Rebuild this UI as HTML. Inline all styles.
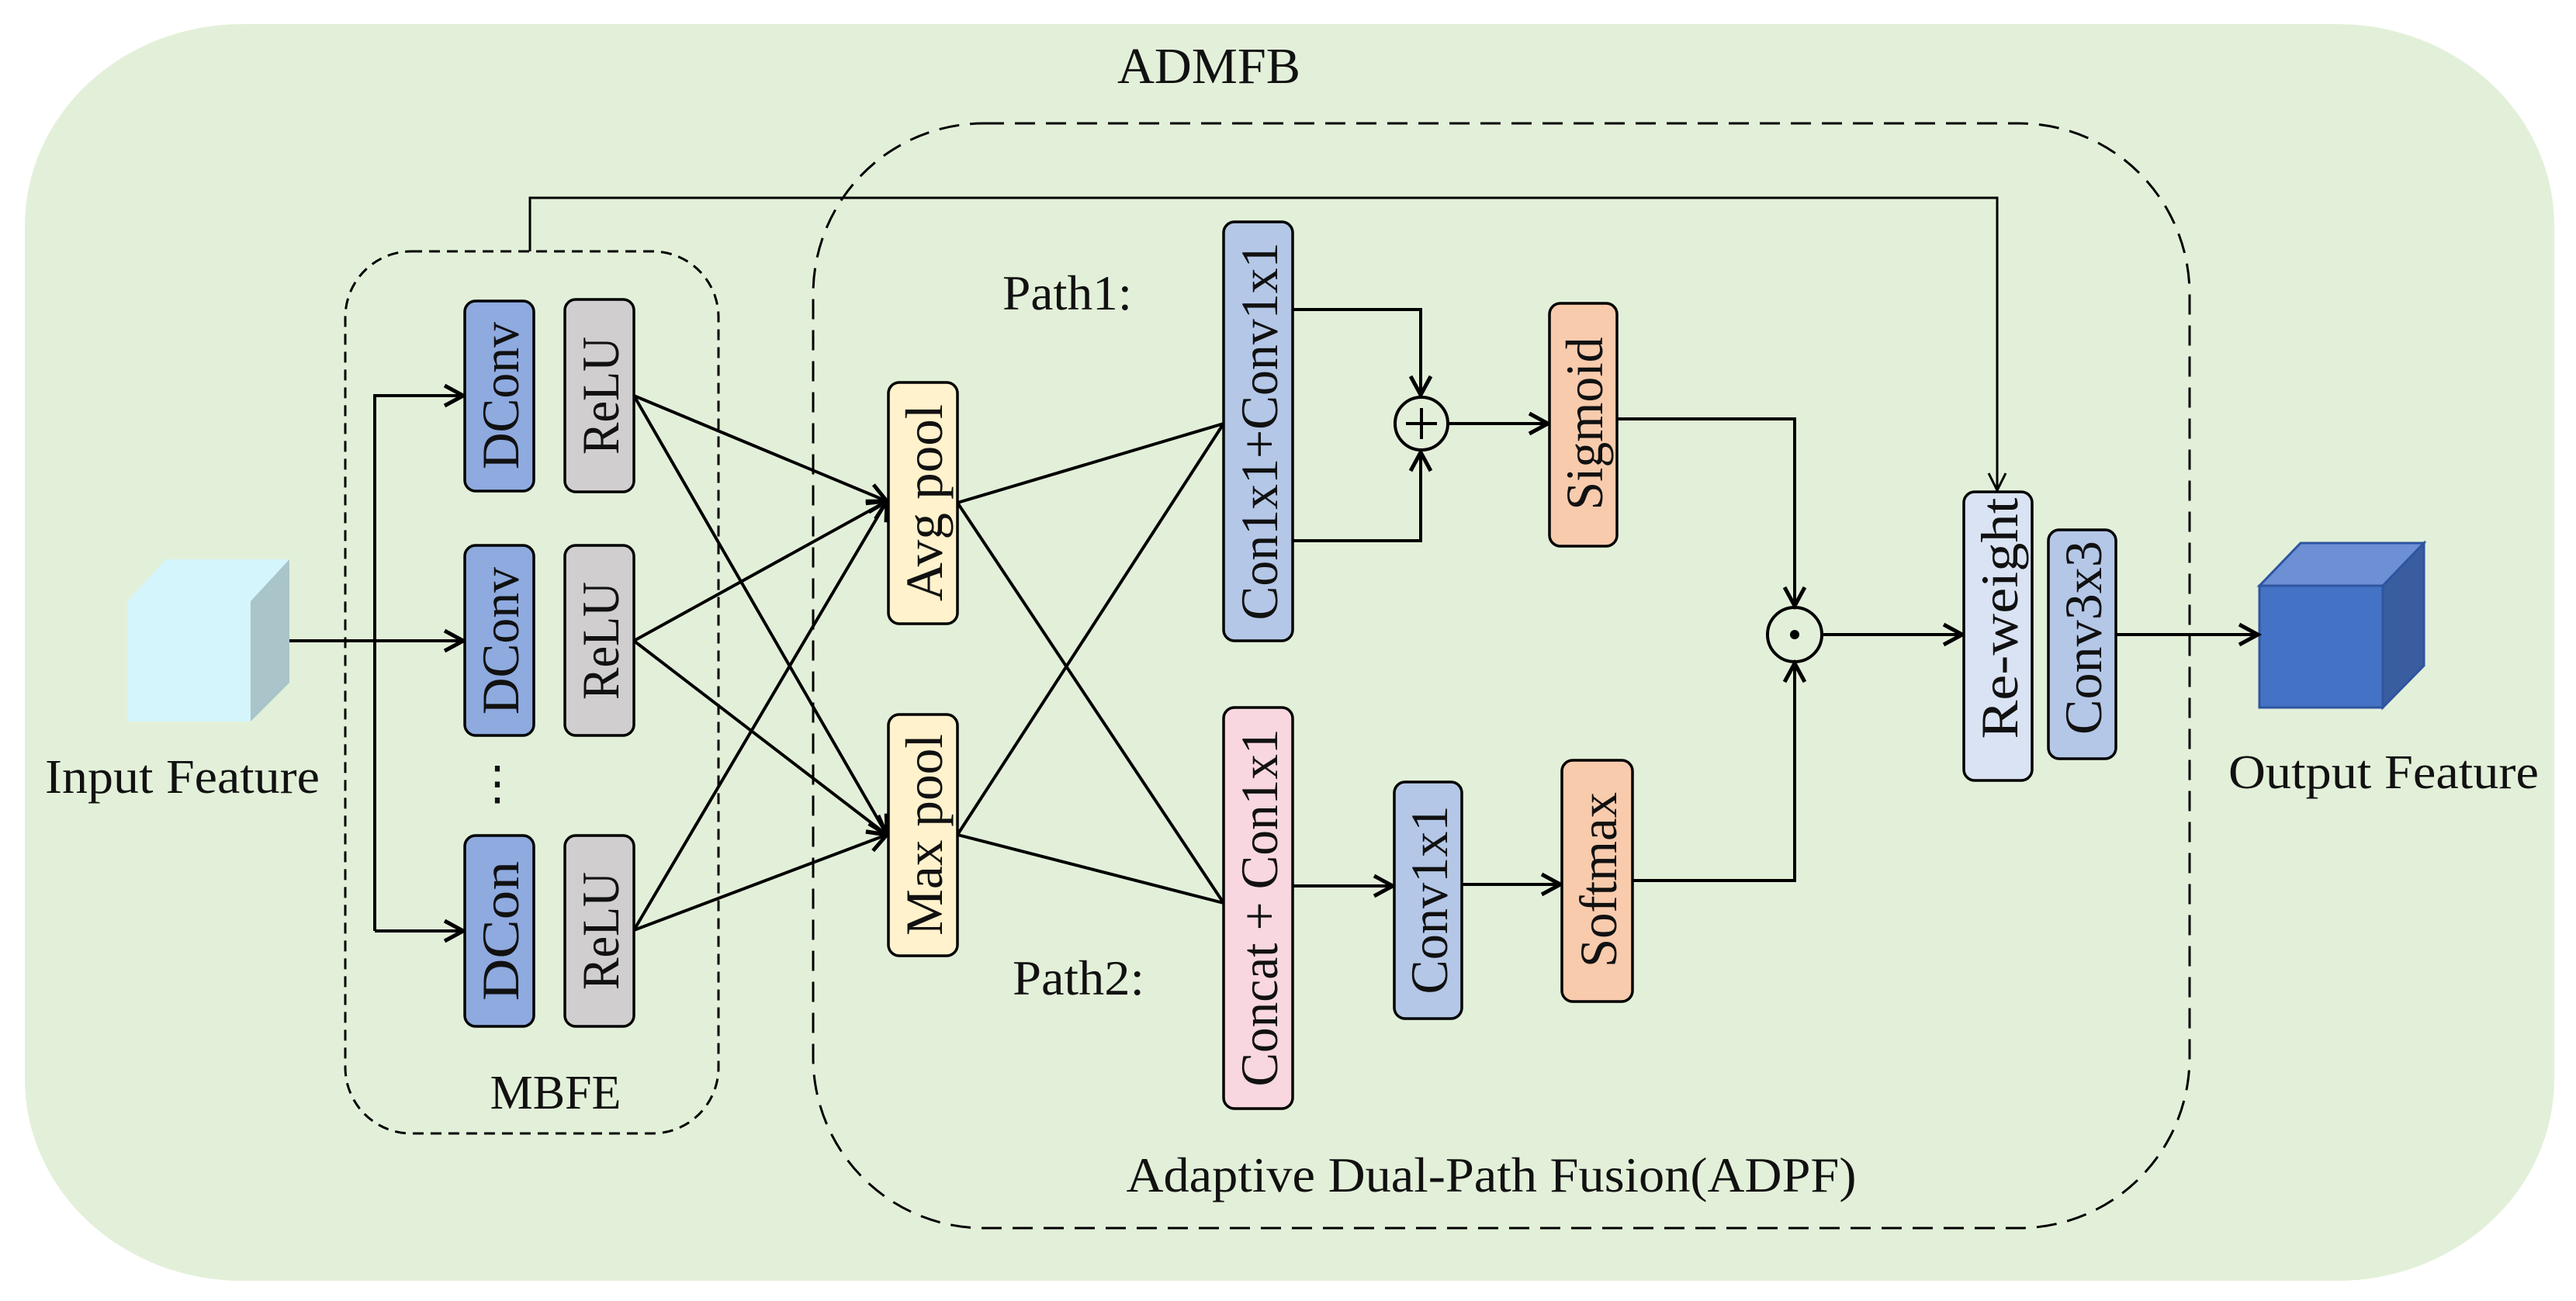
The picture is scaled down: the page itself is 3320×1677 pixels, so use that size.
<!DOCTYPE html>
<html><head><meta charset="utf-8"><style>
html,body{margin:0;padding:0;background:#fff}
svg{display:block}
text{font-family:"Liberation Serif",serif;fill:#111}
</style></head><body>
<svg width="3320" height="1677" viewBox="0 0 3320 1677" xmlns="http://www.w3.org/2000/svg">
<defs>
<marker id="a" markerUnits="userSpaceOnUse" markerWidth="40" markerHeight="40" refX="30" refY="15" orient="auto" viewBox="0 0 40 30">
<path d="M6,2 L30,15 L6,28" fill="none" stroke="#000" stroke-width="5"/>
</marker>
<marker id="s" markerUnits="userSpaceOnUse" markerWidth="40" markerHeight="40" refX="30" refY="15" orient="auto" viewBox="0 0 40 30">
<path d="M8,4 L30,15 L8,26" fill="none" stroke="#000" stroke-width="3"/>
</marker>
</defs>
<rect x="32" y="31" width="3260" height="1620" rx="280" ry="260" fill="#e3f0d9"/>
<text x="1558" y="107" font-size="66" text-anchor="middle" textLength="236" lengthAdjust="spacingAndGlyphs">ADMFB</text>

<!-- dashed boxes -->
<rect x="445" y="324" width="481" height="1137" rx="85" fill="none" stroke="#000" stroke-width="3" stroke-dasharray="14,9"/>
<rect x="1048" y="159" width="1774" height="1424" rx="220" fill="none" stroke="#000" stroke-width="3" stroke-dasharray="26,14"/>
<text x="716" y="1429" font-size="62" text-anchor="middle">MBFE</text>
<text x="1922" y="1536" font-size="64" text-anchor="middle" textLength="941" lengthAdjust="spacingAndGlyphs">Adaptive Dual-Path Fusion(ADPF)</text>
<text x="1292" y="399" font-size="64" textLength="167" lengthAdjust="spacingAndGlyphs">Path1:</text>
<text x="1305" y="1282" font-size="64" textLength="170" lengthAdjust="spacingAndGlyphs">Path2:</text>

<!-- skip line -->
<polyline points="683,324 683,255 2574,255 2574,632" fill="none" stroke="#000" stroke-width="3" marker-end="url(#s)"/>

<!-- input cube -->
<polygon points="164,775 214,721 373,721 323,775" fill="#d4f5fb"/>
<polygon points="323,775 373,721 373,880 323,930" fill="#a9c5c9"/>
<rect x="164" y="775" width="159" height="155" fill="#d4f5fb"/>
<text x="235" y="1022" font-size="62" text-anchor="middle" textLength="354" lengthAdjust="spacingAndGlyphs">Input Feature</text>

<!-- output cube -->
<polygon points="2912,755 2965,700 3124,700 3071,755" fill="#6d8fd4" stroke="#2f55a0" stroke-width="3"/>
<polygon points="3071,755 3124,700 3124,858 3071,912" fill="#3a5da0" stroke="#2f55a0" stroke-width="3"/>
<rect x="2912" y="755" width="159" height="157" fill="#4472c4" stroke="#2f55a0" stroke-width="3"/>
<text x="3072" y="1016" font-size="62" text-anchor="middle" textLength="400" lengthAdjust="spacingAndGlyphs">Output Feature</text>

<!-- input arrows -->
<g fill="none" stroke="#000" stroke-width="4">
<line x1="373" y1="826" x2="597" y2="826" marker-end="url(#a)"/>
<polyline points="483,1200 483,510 597,510" marker-end="url(#a)"/>
<line x1="483" y1="1200" x2="597" y2="1200" marker-end="url(#a)"/>
</g>

<!-- ReLU to pools -->
<g fill="none" stroke="#000" stroke-width="4">
<line x1="817" y1="510" x2="1143" y2="646" marker-end="url(#a)"/>
<line x1="817" y1="826" x2="1143" y2="646" marker-end="url(#a)"/>
<line x1="817" y1="1199" x2="1143" y2="646" marker-end="url(#a)"/>
<line x1="817" y1="510" x2="1143" y2="1076" marker-end="url(#a)"/>
<line x1="817" y1="826" x2="1143" y2="1076" marker-end="url(#a)"/>
<line x1="817" y1="1199" x2="1143" y2="1076" marker-end="url(#a)"/>
<!-- pools to con boxes -->
<line x1="1234" y1="648" x2="1577" y2="546"/>
<line x1="1234" y1="648" x2="1577" y2="1164"/>
<line x1="1234" y1="1076" x2="1577" y2="546"/>
<line x1="1234" y1="1076" x2="1577" y2="1164"/>
<!-- path1 -->
<polyline points="1666,399 1831,399 1831,509" marker-end="url(#a)"/>
<polyline points="1666,697 1831,697 1831,583" marker-end="url(#a)"/>
<line x1="1866" y1="546" x2="1995" y2="546" marker-end="url(#a)"/>
<polyline points="2084,540 2313,540 2313,781" marker-end="url(#a)"/>
<!-- path2 -->
<line x1="1666" y1="1142" x2="1795" y2="1142" marker-end="url(#a)"/>
<line x1="1884" y1="1140" x2="2011" y2="1140" marker-end="url(#a)"/>
<polyline points="2104,1135 2313,1135 2313,855" marker-end="url(#a)"/>
<line x1="2348" y1="818" x2="2529" y2="818" marker-end="url(#a)"/>
<line x1="2727" y1="818" x2="2910" y2="818" marker-end="url(#a)"/>
</g>

<!-- circles -->
<circle cx="1832" cy="546" r="34" fill="none" stroke="#000" stroke-width="4"/>
<line x1="1812" y1="546" x2="1852" y2="546" stroke="#000" stroke-width="4"/>
<line x1="1832" y1="526" x2="1832" y2="566" stroke="#000" stroke-width="4"/>
<circle cx="2313" cy="818" r="35" fill="none" stroke="#000" stroke-width="4"/>
<circle cx="2313" cy="818" r="6" fill="#000"/>

<!-- boxes -->
<g stroke="#000" stroke-width="3.5">
<rect x="599" y="388" width="89" height="245" rx="14" fill="#8eaadf"/>
<rect x="728" y="386" width="89" height="248" rx="14" fill="#d0cece"/>
<rect x="599" y="703" width="89" height="245" rx="14" fill="#8eaadf"/>
<rect x="728" y="703" width="89" height="245" rx="14" fill="#d0cece"/>
<rect x="599" y="1077" width="89" height="246" rx="14" fill="#8eaadf"/>
<rect x="728" y="1077" width="89" height="246" rx="14" fill="#d0cece"/>
<rect x="1145" y="493" width="89" height="311" rx="14" fill="#fff2cc"/>
<rect x="1145" y="921" width="89" height="311" rx="14" fill="#fff2cc"/>
<rect x="1577" y="286" width="89" height="540" rx="14" fill="#b4c7e7"/>
<rect x="1577" y="912" width="89" height="517" rx="14" fill="#f8d7e0"/>
<rect x="1997" y="391" width="87" height="313" rx="14" fill="#f8cbad"/>
<rect x="1797" y="1008" width="87" height="305" rx="14" fill="#b4c7e7"/>
<rect x="2013" y="980" width="91" height="311" rx="14" fill="#f8cbad"/>
<rect x="2531" y="634" width="88" height="372" rx="14" fill="#dae3f3"/>
<rect x="2640" y="683" width="87" height="295" rx="14" fill="#b4c7e7"/>
</g>

<g font-size="68" text-anchor="middle" dominant-baseline="central">
<text transform="translate(645,510) rotate(-90)" textLength="190" lengthAdjust="spacingAndGlyphs">DConv</text>
<text transform="translate(774,510) rotate(-90)" textLength="152" lengthAdjust="spacingAndGlyphs">ReLU</text>
<text transform="translate(645,826) rotate(-90)" textLength="190" lengthAdjust="spacingAndGlyphs">DConv</text>
<text transform="translate(774,826) rotate(-90)" textLength="152" lengthAdjust="spacingAndGlyphs">ReLU</text>
<text transform="translate(645,1200) rotate(-90)" textLength="180" lengthAdjust="spacingAndGlyphs">DCon</text>
<text transform="translate(774,1200) rotate(-90)" textLength="152" lengthAdjust="spacingAndGlyphs">ReLU</text>
<text transform="translate(1191,648) rotate(-90)" textLength="254" lengthAdjust="spacingAndGlyphs">Avg pool</text>
<text transform="translate(1191,1076) rotate(-90)" textLength="260" lengthAdjust="spacingAndGlyphs">Max pool</text>
<text transform="translate(1623,556) rotate(-90)" textLength="487" lengthAdjust="spacingAndGlyphs">Con1x1+Conv1x1</text>
<text transform="translate(1623,1170) rotate(-90)" textLength="461" lengthAdjust="spacingAndGlyphs">Concat + Con1x1</text>
<text transform="translate(2042,546) rotate(-90)" textLength="223" lengthAdjust="spacingAndGlyphs">Sigmoid</text>
<text transform="translate(1842,1160) rotate(-90)" textLength="243" lengthAdjust="spacingAndGlyphs">Conv1x1</text>
<text transform="translate(2060,1134) rotate(-90)" textLength="226" lengthAdjust="spacingAndGlyphs">Softmax</text>
<text transform="translate(2577,797) rotate(-90)" textLength="311" lengthAdjust="spacingAndGlyphs">Re-weight</text>
<text transform="translate(2685,822) rotate(-90)" textLength="250" lengthAdjust="spacingAndGlyphs">Conv3x3</text>
</g>
<text x="641" y="1030" font-size="60" text-anchor="middle">⋮</text>
</svg>
</body></html>
